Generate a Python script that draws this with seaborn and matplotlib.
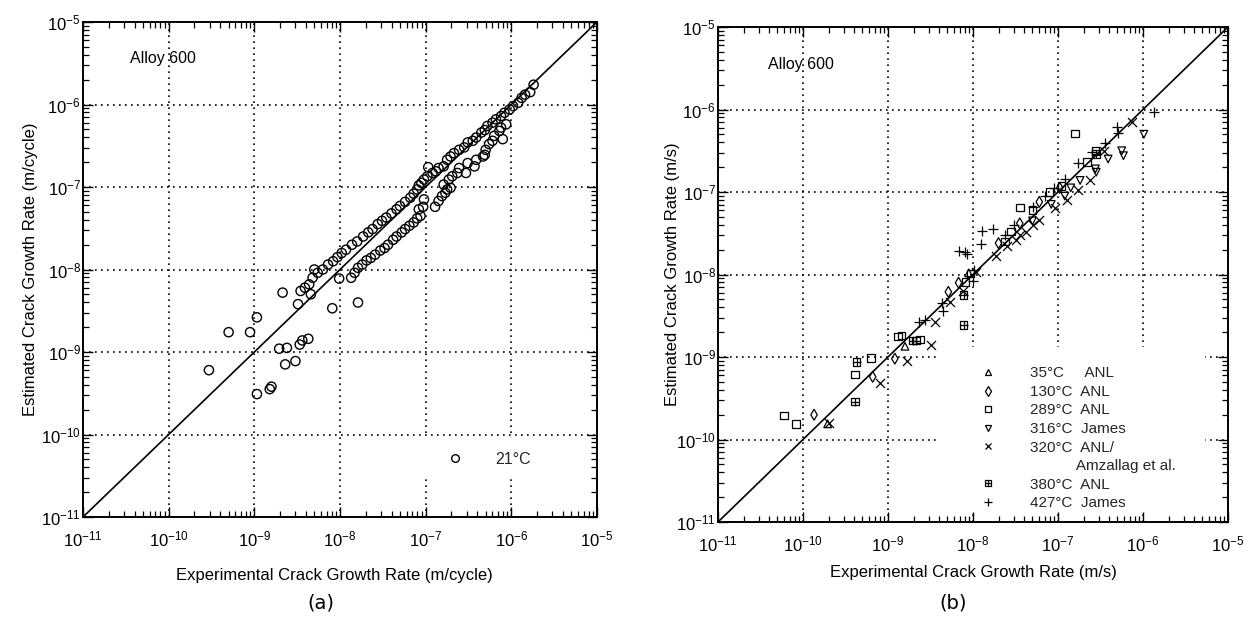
import numpy as np
import pandas as pd
import matplotlib
matplotlib.use("Agg")
import matplotlib.pyplot as plt
import seaborn as sns
from matplotlib.lines import Line2D
from matplotlib.patches import Rectangle
from matplotlib.legend_handler import HandlerTuple
from matplotlib.ticker import FixedLocator, LogLocator, NullFormatter

# ---------------- data (log10 of rates) ----------------
# Panel (a): Alloy 600, 21 C, experimental vs estimated (m/cycle)
a_exp_log = [-9.53, -9.30, -9.05, -8.97, -8.97, -8.82, -8.80, -8.71, -8.62, -8.64,
             -8.52, -8.47, -8.44, -8.37, -8.67, -8.49, -8.09, -7.79, -8.01,
             -8.46, -8.41, -8.36, -8.34, -8.32, -8.30, -8.26, -8.20, -8.14, -8.08,
             -8.03, -7.98, -7.93, -7.86, -7.80, -7.73, -7.67, -7.62, -7.56, -7.51,
             -7.46, -7.40, -7.34, -7.30, -7.24, -7.18, -7.14, -7.10, -7.08, -7.05,
             -7.02, -6.98, -6.97,
             -7.87, -7.83, -7.79, -7.74, -7.69, -7.64, -7.59, -7.53, -7.48, -7.44,
             -7.38, -7.34, -7.28, -7.24, -7.19, -7.14, -7.10, -7.06, -7.03, -7.02, -7.08,
             -6.92, -6.88, -6.85, -6.79, -6.75, -6.71, -6.67, -6.61, -6.55, -6.51,
             -6.45, -6.41, -6.35, -6.31, -6.28, -6.22, -6.18, -6.12, -6.08, -6.02,
             -5.98, -5.92, -5.88, -5.84, -5.78, -5.74,
             -6.89, -6.85, -6.81, -6.77, -6.75, -6.71, -6.79, -6.73, -6.69, -6.63,
             -6.61, -6.53, -6.51, -6.43, -6.41, -6.33, -6.31, -6.30, -6.26, -6.22,
             -6.20, -6.14, -6.12, -6.10, -6.06]
a_est_log = [-9.22, -8.76, -8.76, -8.58, -9.51, -9.45, -9.42, -8.96, -8.95, -9.15,
             -9.11, -8.91, -8.86, -8.84, -8.28, -8.42, -8.47, -8.40, -8.11,
             -8.26, -8.22, -8.18, -8.30, -8.10, -8.00, -8.04, -8.00, -7.94, -7.90,
             -7.85, -7.80, -7.76, -7.70, -7.66, -7.60, -7.55, -7.51, -7.45, -7.41,
             -7.37, -7.32, -7.27, -7.23, -7.18, -7.13, -7.08, -7.03, -6.98, -6.95,
             -6.91, -6.87, -6.76,
             -8.10, -8.04, -7.98, -7.94, -7.89, -7.86, -7.82, -7.77, -7.74, -7.70,
             -7.64, -7.60, -7.55, -7.51, -7.47, -7.43, -7.38, -7.35, -7.24, -7.15, -7.27,
             -6.83, -6.81, -6.77, -6.75, -6.67, -6.63, -6.59, -6.55, -6.52, -6.46,
             -6.44, -6.40, -6.34, -6.31, -6.26, -6.22, -6.18, -6.14, -6.10, -6.06,
             -6.02, -5.98, -5.92, -5.88, -5.85, -5.76,
             -7.24, -7.17, -7.11, -7.07, -7.03, -7.01, -6.97, -6.91, -6.87, -6.83,
             -6.77, -6.83, -6.71, -6.75, -6.67, -6.63, -6.61, -6.55, -6.48, -6.44,
             -6.38, -6.32, -6.28, -6.42, -6.24]

# Panel (b): Alloy 600, experimental vs estimated (m/s)
t35_exp_log = [-9.71, -8.80, -8.05]
t35_est_log = [-9.81, -8.87, -7.98]
d130_exp_log = [-9.87, -9.18, -8.92, -8.29, -8.17, -7.70, -7.45, -7.22, -6.98]
d130_est_log = [-9.70, -9.24, -9.02, -8.21, -8.10, -7.62, -7.38, -7.12, -6.95]
s289_exp_log = [-10.22, -10.08, -9.39, -9.20, -8.88, -8.84, -8.62, -8.09, -8.03,
                -7.45, -7.30, -7.10, -6.96, -6.80, -6.66, -6.56, -7.62, -7.55]
s289_est_log = [-9.71, -9.81, -9.21, -9.01, -8.75, -8.74, -8.79, -8.09, -7.99,
                -7.19, -7.22, -7.00, -6.93, -6.29, -6.64, -6.50, -7.60, -7.48]
v316_exp_log = [-5.99, -6.25, -6.23, -6.41, -6.55, -6.56, -6.74, -6.92, -7.08, -6.85, -7.30]
v316_est_log = [-6.30, -6.50, -6.56, -6.60, -6.76, -6.72, -6.86, -7.05, -7.15, -6.95, -7.35]
x320_exp_log = [-9.70, -9.10, -8.78, -8.49, -8.45, -8.27, -8.12, -7.97, -7.73, -7.60,
                -7.50, -7.38, -7.22, -7.04, -6.90, -6.76, -6.62, -6.46, -6.13, -7.45, -7.30]
x320_est_log = [-9.80, -9.32, -9.05, -8.86, -8.57, -8.33, -8.20, -7.97, -7.77, -7.66,
                -7.58, -7.49, -7.34, -7.19, -7.10, -6.98, -6.86, -6.50, -6.15, -7.52, -7.40]
b380_exp_log = [-9.37, -9.39, -8.71, -8.67, -8.11, -8.11, -6.55]
b380_est_log = [-9.06, -9.54, -8.80, -8.80, -8.25, -8.61, -6.54]
p427_exp_log = [-5.87, -6.31, -6.29, -6.77, -7.90, -7.77, -7.91, -8.17, -8.09, -8.07,
                -7.99, -8.36, -8.35, -8.56, -8.64, -8.00, -7.52, -7.30, -7.15, -6.92,
                -7.05, -6.60, -7.62, -6.45]
p427_est_log = [-6.03, -6.21, -6.29, -6.65, -7.47, -7.45, -7.63, -7.71, -7.73, -7.75,
                -7.95, -8.35, -8.44, -8.55, -8.58, -8.08, -7.40, -7.18, -7.05, -6.84,
                -6.95, -6.52, -7.52, -6.40]

legend_b_labels = ["35°C     ANL", "130°C  ANL", "289°C  ANL", "316°C  James",
                   "320°C  ANL/", "           Amzallag et al.", "380°C  ANL", "427°C  James"]
decades = [1e-11, 1e-10, 1e-9, 1e-8, 1e-7, 1e-6, 1e-5]
decade_labels = [r"$10^{-11}$", r"$10^{-10}$", r"$10^{-9}$", r"$10^{-8}$",
                 r"$10^{-7}$", r"$10^{-6}$", r"$10^{-5}$"]
diag = [1e-11, 1e-5]

# ---------------- style ----------------
sns.set_theme(style="ticks")
plt.rcParams['font.family'] = ['Liberation Sans', 'DejaVu Sans']
plt.rcParams['mathtext.default'] = 'regular'
plt.rcParams['axes.unicode_minus'] = False

fig = plt.figure(figsize=(12.55, 6.19), dpi=100)
fig.patch.set_facecolor('white')
W, H = 1255.0, 619.0
axA = fig.add_axes([83 / W, (H - 517) / H, 514 / W, 495 / H])
axB = fig.add_axes([718 / W, (H - 522) / H, 510 / W, 495 / H])


def style_axes(ax, xlabel, ylabel, ylab_x, xlab_x, xlab_y):
    ax.set_facecolor('white')
    ax.set_xscale('log')
    ax.set_yscale('log')
    ax.set_xlim(1e-11, 1e-5)
    ax.set_ylim(1e-11, 1e-5)
    for axis in (ax.xaxis, ax.yaxis):
        axis.set_major_locator(FixedLocator(decades))
        axis.set_minor_locator(LogLocator(base=10, subs=np.arange(2, 10), numticks=30))
        axis.set_minor_formatter(NullFormatter())
    ax.set_xticklabels(decade_labels)
    ax.set_yticklabels(decade_labels)
    ax.tick_params(which='both', direction='in', top=True, right=True,
                   color='black', width=1.0, labelcolor='black', labelsize=12)
    ax.tick_params(which='major', length=7)
    ax.tick_params(which='minor', length=4, width=0.9)
    ax.tick_params(axis='x', pad=9)
    ax.tick_params(axis='y', pad=1.5)
    for s in ax.spines.values():
        s.set_linewidth(1.4)
        s.set_color('black')
    ax.grid(True, which='major', color='black', linestyle=(0, (1, 2.6)), linewidth=1.2)
    ax.grid(False, which='minor')
    ax.set_axisbelow(True)
    ax.set_xlabel(xlabel, fontsize=12, color='black')
    ax.set_ylabel(ylabel, fontsize=12, color='black')
    ax.xaxis.set_label_coords(xlab_x, xlab_y)
    ax.xaxis.label.set_va('top')
    ax.yaxis.set_label_coords(ylab_x, 0.5)
    sns.lineplot(x=diag, y=diag, ax=ax, color='black', linewidth=1.2, zorder=2)


style_axes(axA, "Experimental Crack Growth Rate (m/cycle)",
           "Estimated Crack Growth Rate (m/cycle)", -0.0875, 0.49, -0.103)
style_axes(axB, "Experimental Crack Growth Rate (m/s)",
           "Estimated Crack Growth Rate (m/s)", -0.0745, 0.5, -0.087)

# ---------------- panel (a) ----------------
dfa = pd.DataFrame({"exp": 10 ** np.array(a_exp_log), "est": 10 ** np.array(a_est_log)})
sns.scatterplot(data=dfa, x="exp", y="est", ax=axA, marker='o', s=44,
                facecolor='none', edgecolor='black', linewidth=1.0, legend=False, zorder=3)
axA.add_patch(Rectangle((0.645, 0.078), 0.31, 0.085, transform=axA.transAxes,
                        facecolor='white', edgecolor='none', zorder=1))
hA = [Line2D([], [], ls='none', marker='o', ms=5.5, mfc='none', mec='black', mew=1.0)]
legA = axA.legend(hA, ["21°C"], loc='center left', bbox_to_anchor=(0.693, 0.117),
                  frameon=False, borderpad=0, handlelength=1.0, handletextpad=2.0,
                  fontsize=11.5)
axA.text(0.091, 0.927, "Alloy 600", transform=axA.transAxes, fontsize=11.5,
         ha='left', va='center', color='black')

# ---------------- panel (b) ----------------
ms_b = 30
open_kw = dict(facecolor='none', edgecolor='black', linewidth=0.9, legend=False, zorder=3)
line_kw = dict(color='black', linewidth=0.9, legend=False, zorder=3)


def pts(lx, ly):
    return 10 ** np.array(lx), 10 ** np.array(ly)


x, y = pts(t35_exp_log, t35_est_log)
sns.scatterplot(x=x, y=y, ax=axB, marker='^', s=ms_b, **open_kw)
x, y = pts(d130_exp_log, d130_est_log)
sns.scatterplot(x=x, y=y, ax=axB, marker='d', s=ms_b, **open_kw)
x, y = pts(s289_exp_log, s289_est_log)
sns.scatterplot(x=x, y=y, ax=axB, marker='s', s=ms_b, **open_kw)
x, y = pts(v316_exp_log, v316_est_log)
sns.scatterplot(x=x, y=y, ax=axB, marker='v', s=ms_b, **open_kw)
x, y = pts(x320_exp_log, x320_est_log)
sns.scatterplot(x=x, y=y, ax=axB, marker='x', s=42, **line_kw)
x, y = pts(b380_exp_log, b380_est_log)
sns.scatterplot(x=x, y=y, ax=axB, marker='s', s=ms_b, **open_kw)
sns.scatterplot(x=x, y=y, ax=axB, marker='+', s=ms_b, **line_kw)
x, y = pts(p427_exp_log, p427_est_log)
sns.scatterplot(x=x, y=y, ax=axB, marker='+', s=46, **line_kw)

axB.add_patch(Rectangle((0.43, 0.02), 0.525, 0.333, transform=axB.transAxes,
                        facecolor='white', edgecolor='none', zorder=1))


def lh(marker, filled_open=True, ms=5.0):
    if filled_open:
        return Line2D([], [], ls='none', marker=marker, ms=ms, mfc='none', mec='black', mew=0.9)
    return Line2D([], [], ls='none', marker=marker, ms=ms, color='black', mew=0.9)


hB = [lh('^'), lh('d'), lh('s'), lh('v'), lh('x', False),
      Line2D([], [], ls='none', marker=None),
      (lh('s'), lh('+', False)), lh('+', False, 5.8)]
legB = axB.legend(hB, legend_b_labels, loc='upper left', bbox_to_anchor=(0.500, 0.330),
                  frameon=False, borderpad=0, handlelength=1.0, handletextpad=2.2,
                  labelspacing=0.30, fontsize=11,
                  handler_map={tuple: HandlerTuple(ndivide=1, pad=0)})
axB.text(0.098, 0.925, "Alloy 600", transform=axB.transAxes, fontsize=11.5,
         ha='left', va='center', color='black')

# panel captions
fig.text(321 / W, 1 - 603 / H, "(a)", fontsize=14, family=['DejaVu Sans'],
         ha='center', va='center', color='black')
fig.text(953 / W, 1 - 603 / H, "(b)", fontsize=14, family=['DejaVu Sans'],
         ha='center', va='center', color='black')

fig.savefig("out.png", dpi=100, facecolor='white')
